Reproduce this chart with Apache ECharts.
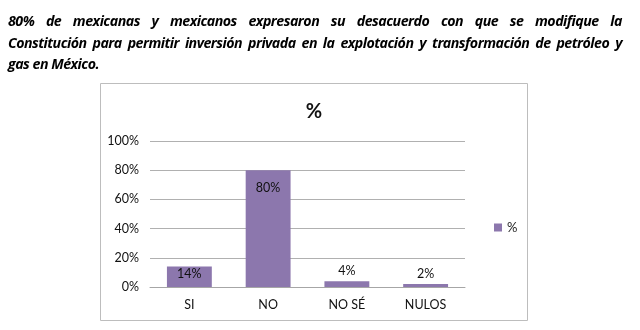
<!DOCTYPE html>
<html><head><meta charset="utf-8">
<script src="https://cdn.jsdelivr.net/npm/echarts@6/dist/echarts.min.js"></script>
<style>
html,body{margin:0;padding:0;background:#fff;}
#wrap{position:relative;width:640px;height:330px;}
#chart{position:absolute;left:0;top:0;width:640px;height:330px;}
#head{position:absolute;left:8px;top:10px;width:614px;font-family:"Open Sans",sans-serif;font-weight:bold;font-style:italic;font-size:14.2px;line-height:21.5px;color:#000;letter-spacing:-0.5px;}
#head div{white-space:nowrap;}
#head .j{text-align:justify;text-align-last:justify;}
</style></head>
<body><div id="wrap"><div id="chart"></div>
<div id="head">
<div class="j">80% de mexicanas y mexicanos expresaron su desacuerdo con que se modifique la</div>
<div class="j">Constitución para permitir inversión privada en la explotación y transformación de petróleo y</div>
<div>gas en México.</div>
</div></div>
<script>
const categories = ['SI', 'NO', 'NO SÉ', 'NULOS'];
const values = [14, 80, 4, 2];
const yTicks = [0, 20, 40, 60, 80, 100];
const seriesName = '%';
const chartTitle = '%';

const chart = echarts.init(document.getElementById('chart'), null, {renderer: 'canvas'});
const font = 'Lato, "Open Sans", sans-serif';
const data = values.map(v => ({
  value: v,
  label: {position: v >= 10 ? 'insideTop' : 'top', distance: v >= 50 ? 11 : (v >= 10 ? 1 : 4)}
}));
chart.setOption({
  animation: false,
  graphic: [
    {type: 'rect', shape: {x: 100.5, y: 83.5, width: 427, height: 237},
      style: {fill: 'none', stroke: '#bdbdbd', lineWidth: 1}, z: -1},
    {type: 'text', x: 314, y: 112, style: {text: chartTitle, align: 'center', verticalAlign: 'middle',
      font: 'bold 20px Lato, "Open Sans", sans-serif', fill: '#111'}}
  ],
  legend: {data: [seriesName], left: 489, top: 216, itemWidth: 8, itemHeight: 8, itemGap: 4,
    icon: 'rect', textStyle: {fontFamily: font, fontSize: 13, color: '#222'}},
  grid: {left: 150, right: 640 - 465, top: 141, bottom: 330 - 287},
  xAxis: {type: 'category', data: categories,
    axisLine: {lineStyle: {color: '#a6a6a6'}}, axisTick: {show: false},
    axisLabel: {fontFamily: font, fontSize: 12.5, color: '#111', margin: 11}},
  yAxis: {type: 'value', min: yTicks[0], max: yTicks[yTicks.length - 1], interval: 20,
    axisLine: {show: false}, axisTick: {show: false},
    splitLine: {lineStyle: {color: '#b0b0b0'}},
    axisLabel: {fontFamily: font, fontSize: 12.5, color: '#111', margin: 11, formatter: v => v + '%'}},
  series: [{name: seriesName, type: 'bar', data: data, barCategoryGap: '43%',
    itemStyle: {color: '#8c77ad'},
    label: {show: true, formatter: p => p.value + '%', fontFamily: font, fontSize: 12.5, color: '#111'}}]
});
</script></body></html>
